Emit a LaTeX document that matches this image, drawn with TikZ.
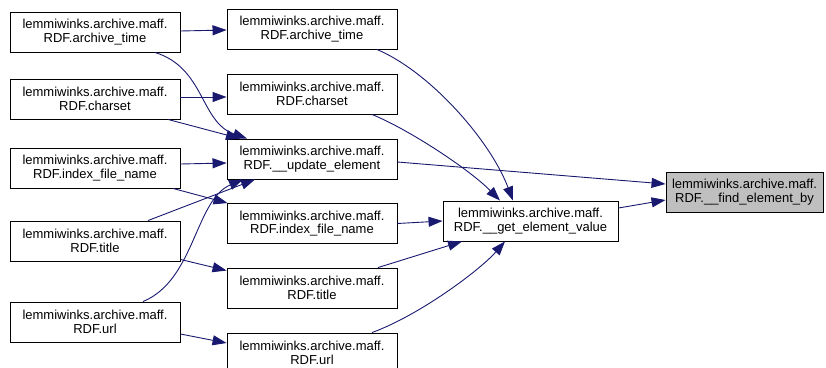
\documentclass[tikz,border=0pt]{standalone}
\usepackage{fontspec}
\setmainfont{Liberation Sans}
\usetikzlibrary{arrows.meta}
\definecolor{edgeblue}{HTML}{191970}
\definecolor{hilite}{HTML}{BFBFBF}
\begin{document}
\begin{tikzpicture}[x=1pt,y=-1pt,
  box/.style={draw=black,line width=0.9pt,fill=white,rectangle,inner sep=0pt,
    minimum height=40pt,align=center,font=\fontsize{13}{13.6}\selectfont},
  lbox/.style={box,minimum width=170pt},
  e/.style={draw=edgeblue,line width=0.9pt,-{Triangle[length=14pt,width=10pt]}}]
\useasboundingbox (0,0) rectangle (826,367);
% left column
\node[lbox] (L1) at (95,32) {lemmiwinks.archive.maff.\\RDF.archive\_time};
\node[lbox] (L2) at (95,99) {lemmiwinks.archive.maff.\\RDF.charset};
\node[lbox] (L3) at (95,168) {lemmiwinks.archive.maff.\\RDF.index\_file\_name};
\node[lbox] (L4) at (95,241) {lemmiwinks.archive.maff.\\RDF.title};
\node[lbox] (L5) at (95,322) {lemmiwinks.archive.maff.\\RDF.url};
% middle column
\node[lbox] (M1) at (312,29) {lemmiwinks.archive.maff.\\RDF.archive\_time};
\node[lbox] (M2) at (312,94) {lemmiwinks.archive.maff.\\RDF.charset};
\node[lbox] (M3) at (312,159) {lemmiwinks.archive.maff.\\RDF.\_\_update\_element};
\node[lbox] (M4) at (312,223.5) {lemmiwinks.archive.maff.\\RDF.index\_file\_name};
\node[lbox] (M5) at (312,288) {lemmiwinks.archive.maff.\\RDF.title};
\node[lbox] (M6) at (312,353) {lemmiwinks.archive.maff.\\RDF.url};
% right
\node[box,minimum width=175pt] (G) at (530.5,221) {lemmiwinks.archive.maff.\\RDF.\_\_get\_element\_value};
\node[box,minimum width=157pt,fill=hilite] (F) at (744.5,192) {lemmiwinks.archive.maff.\\RDF.\_\_find\_element\_by};
% edges from left column
\draw[e] ([yshift=1pt]L1.east) -- ([yshift=-1pt]M1.west);
\draw[e] ([xshift=60pt]L1.south) .. controls (205,68) and (200,122) .. ([xshift=-65pt]M3.north);
\draw[e] ([yshift=2pt]L2.east) -- ([yshift=-3pt]M2.west);
\draw[e] ([xshift=73pt]L2.south) -- ([xshift=-72pt]M3.north);
\draw[e] ([yshift=4pt]L3.east) -- ([yshift=-4pt]M3.west);
\draw[e] ([xshift=78pt]L3.south) -- ([xshift=1pt]M4.north west);
\draw[e] ([xshift=53pt]L4.north) -- ([xshift=-57pt]M3.south);
\draw[e] ([yshift=2pt]L4.south east) -- ([yshift=-3pt]M5.north west);
\draw[e] ([xshift=48pt]L5.north) .. controls (195,280) and (195,200) .. ([xshift=-69pt]M3.south);
\draw[e] ([yshift=-12pt]L5.east) -- ([yshift=10pt]M6.west);
% edges from middle column
\draw[e] ([xshift=65pt]M1.south) .. controls (430,72) and (490,140) .. ([xshift=-17.5pt]G.north);
\draw[e] ([xshift=60pt]M2.south) .. controls (410,130) and (470,170) .. ([xshift=-30.5pt]G.north);
\draw[e] ([yshift=-3pt]M3.east) -- ([yshift=8pt]F.west);
\draw[e] (M4.east) -- (G.west);
\draw[e] ([xshift=66pt]M5.north) -- ([xshift=-68.5pt]G.south);
\draw[e] ([xshift=60pt]M6.north) .. controls (420,315) and (480,270) .. ([xshift=-25.5pt]G.south);
\draw[e] ([yshift=13pt]G.east) -- ([yshift=-8pt]F.west);
\end{tikzpicture}
\end{document}
